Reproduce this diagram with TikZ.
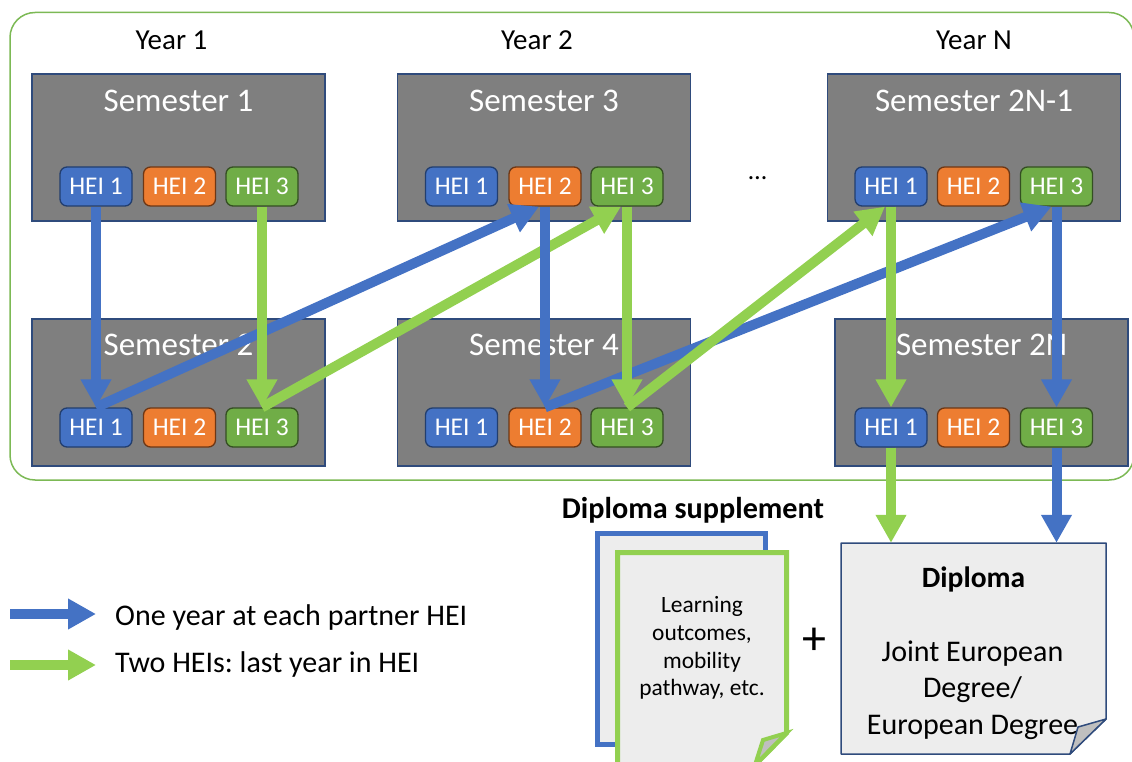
\documentclass[tikz,border=0pt]{standalone}
\usepackage{fontspec}
\setmainfont{Carlito}
\usetikzlibrary{arrows.meta}
\frenchspacing

\definecolor{semgray}{HTML}{7F7F7F}
\definecolor{semline}{HTML}{2F4B7C}
\definecolor{cblue}{HTML}{4472C4}
\definecolor{cblueD}{HTML}{223E6E}
\definecolor{corange}{HTML}{ED7D31}
\definecolor{corangeD}{HTML}{6E3714}
\definecolor{cgreen}{HTML}{70AD47}
\definecolor{cgreenD}{HTML}{344F22}
\definecolor{ablue}{HTML}{4472C4}
\definecolor{agreen}{HTML}{92D050}
\definecolor{framegreen}{HTML}{7CB955}
\definecolor{paper}{HTML}{EDEDED}
\definecolor{foldgray}{HTML}{BFBFBF}
\definecolor{paperline}{HTML}{2F4B7C}

\begin{document}
\begin{tikzpicture}[x=1pt,y=-1pt,
  sembox/.style={draw=semline, fill=semgray, line width=1.2pt,
    minimum width=293pt, minimum height=147pt, inner sep=0pt},
  semtitle/.style={text=white, font=\fontsize{33}{40}\selectfont,
    anchor=base, inner sep=0pt},
  yearlbl/.style={font=\fontsize{29}{35}\selectfont, anchor=base, inner sep=0pt},
  chip/.style={rounded corners=7pt, line width=1.3pt, minimum width=72pt,
    minimum height=39pt, inner sep=0pt, text=white,
    font=\fontsize{25.5}{30}\selectfont},
  hone/.style={chip, fill=cblue, draw=cblueD},
  htwo/.style={chip, fill=corange, draw=corangeD},
  hthree/.style={chip, fill=cgreen, draw=cgreenD},
  barrow/.style={draw=ablue, line width=10pt,
    -{Triangle[width=29pt,length=28pt]}},
  garrow/.style={draw=agreen, line width=10pt,
    -{Triangle[width=29pt,length=28pt]}},
  legendtxt/.style={font=\fontsize{30}{36}\selectfont, anchor=base west, inner sep=0pt},
]
\useasboundingbox (0,0) rectangle (1132,762);

% outer frame around the study years
\draw[draw=framegreen, line width=1.5pt, rounded corners=25pt]
  (10,12.5) rectangle (1134,480);

% year headings
\node[yearlbl] (y1) at (171.5,50) {Year 1};
\node[yearlbl] (y2) at (537,50) {Year 2};
\node[yearlbl] (yN) at (974,50) {Year N};

% semester boxes
\node[sembox] (S1) at (178.5,147.5) {};
\node[sembox] (S2) at (178.5,392.5) {};
\node[sembox] (S3) at (544,147.5) {};
\node[sembox] (S4) at (544,392.5) {};
\node[sembox] (S5) at (974,147.5) {};
\node[sembox] (S6) at (981.5,392.5) {};

\node[semtitle] (t1) at (178.5,112) {Semester 1};
\node[semtitle] (t2) at (178.5,355) {Semester 2};
\node[semtitle] (t3) at (544,112) {Semester 3};
\node[semtitle] (t4) at (544,355) {Semester 4};
\node[semtitle] (t5) at (974,112) {Semester 2N-1};
\node[semtitle] (t6) at (981.5,355) {Semester 2N};

% partner institutions in each semester
\foreach \s/\ya/\xa/\xb/\xc in {1/186.5/96/179.5/262, 2/427.5/96/179.5/262,
                               3/186.5/461.5/545/627, 4/427.5/461.5/545/627,
                               5/186.5/891/973.5/1056.5, 6/427.5/891/973.5/1056.5}{
  \node[hone]   (s\s h1) at (\xa,\ya) {HEI 1};
  \node[htwo]   (s\s h2) at (\xb,\ya) {HEI 2};
  \node[hthree] (s\s h3) at (\xc,\ya) {HEI 3};
}

\node[font=\fontsize{26}{30}\selectfont, inner sep=0pt] (dots) at (757.5,178) {…};

% diploma page with folded corner
\node[minimum width=265pt, minimum height=211pt, inner sep=0pt] (dip) at (973.5,648.5) {};
\draw[draw=paperline, fill=paper, line width=1.5pt, line join=round]
  (841,543) -- (1106,543) -- (1106,719) -- (1070,754) -- (841,754) -- cycle;
\node[font=\bfseries\fontsize{29.5}{35}\selectfont, anchor=base, inner sep=0pt]
  (diptitle) at (973.5,587) {Diploma};
\node[align=center, font=\fontsize{30}{36.5}\selectfont, inner sep=0pt]
  (diptext) at (972.5,690) {Joint European\\Degree/\\European Degree};
\draw[draw=paperline, fill=foldgray, line width=1.5pt, line join=round]
  (1106,719) -- (1078,727) -- (1070,754) -- cycle;

% diploma supplement pages
\node[font=\bfseries\fontsize{30.2}{36}\selectfont, anchor=base, inner sep=0pt]
  (suptitle) at (693,518) {Diploma supplement};
\draw[draw=ablue, fill=paper, line width=5pt] (597.5,533.5) rectangle (765.5,744.5);
\draw[draw=agreen, fill=paper, line width=5pt]
  (617.5,552.5) -- (786.5,552.5) -- (786.5,733) -- (755,765) -- (617.5,765) -- cycle;
\draw[draw=agreen, fill=foldgray, line width=4pt]
  (786.5,733) -- (763,740) -- (755,765) -- cycle;
\node[align=center, font=\fontsize{23.4}{27.7}\selectfont, inner sep=0pt]
  (suptext) at (702,648) {Learning\\outcomes,\\mobility\\pathway, etc.};

\node[font=\fontsize{48}{50}\selectfont, inner sep=0pt] (plus) at (814,641) {+};

% mobility paths: diagonal moves between years
\draw[barrow] (s2h1.north) -- ([xshift=-6pt]s3h2.south);
\draw[garrow] (s2h3.north) -- ([xshift=-6pt]s3h3.south);
\draw[barrow] (s4h2.north) -- ([xshift=-5pt]s5h3.south);
\draw[garrow] (s4h3.north) -- ([xshift=-6pt]s5h1.south);

% mobility paths: staying within a year
\draw[barrow] (s1h1.south) -- (s2h1.north);
\draw[garrow] (s1h3.south) -- (s2h3.north);
\draw[barrow] (s3h2.south) -- (s4h2.north);
\draw[garrow] (s3h3.south) -- (s4h3.north);
\draw[garrow] (s5h1.south) -- (s6h1.north);
\draw[barrow] (s5h3.south) -- (s6h3.north);

% to the diploma
\draw[garrow] (s6h1.south) -- (s6h1.south |- dip.north);
\draw[barrow] (s6h3.south) -- (s6h3.south |- dip.north);

% legend
\coordinate (lb0) at (10,614);
\coordinate (lb1) at (96,614);
\coordinate (lg0) at (10,665);
\coordinate (lg1) at (96,665);
\draw[barrow] (lb0) -- (lb1);
\draw[garrow] (lg0) -- (lg1);
\node[legendtxt] (lbt) at (115,625) {One year at each partner HEI};
\node[legendtxt] (lgt) at (115,672) {Two HEIs: last year in HEI};
\end{tikzpicture}
\end{document}
